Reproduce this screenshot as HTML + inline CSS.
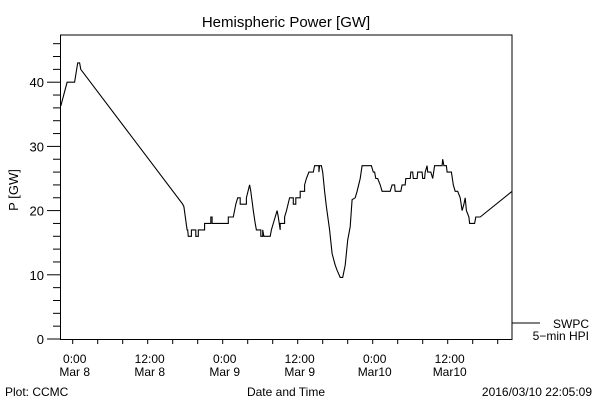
<!DOCTYPE html>
<html><head><meta charset="utf-8"><style>
html,body{margin:0;padding:0;background:#fff;}
svg{display:block;font-family:"Liberation Sans",sans-serif;}
</style></head><body>
<svg id="chart" width="600" height="400" viewBox="0 0 600 400" xmlns="http://www.w3.org/2000/svg">
<rect x="0" y="0" width="600" height="400" fill="#fff"/>
<text x="286" y="27" font-size="15" text-anchor="middle">Hemispheric Power [GW]</text>
<text transform="translate(18,190) rotate(-90)" font-size="13" text-anchor="middle">P [GW]</text>
<text x="286" y="396" font-size="12" text-anchor="middle">Date and Time</text>
<text x="5" y="396" font-size="12">Plot: CCMC</text>
<text x="592" y="396" font-size="12" text-anchor="end">2016/03/10 22:05:09</text>
<g id="axes"></g>
<g id="series"></g>
<line x1="512" y1="323" x2="540" y2="323" stroke="#000"/>
<text x="589" y="328" font-size="12" text-anchor="end">SWPC</text>
<text x="589" y="340" font-size="12" text-anchor="end">5−min HPI</text>
</svg>
<script>
const hours=[-1.9,-0.9,0.3,0.8,1.1,1.3,17.6,17.8,18.3,18.4,18.5,19.0,19.0,19.7,19.7,20.1,20.1,20.5,21.1,21.1,22.1,22.1,22.3,22.3,24.9,24.9,25.7,26.1,26.4,26.8,26.8,27.8,27.8,28.3,28.5,28.9,29.2,29.4,30.1,30.1,30.4,30.4,30.6,31.6,31.8,32.1,32.7,32.9,33.2,33.2,33.9,33.9,34.2,34.7,35.3,35.3,35.7,35.7,36.4,36.4,37.1,37.1,37.4,37.8,38.5,38.7,39.4,39.4,39.5,39.8,40.0,40.3,40.6,41.1,41.5,42.0,42.3,42.8,43.2,43.6,44.0,44.4,44.7,45.2,45.5,46.0,46.3,47.8,48.1,48.3,48.5,48.8,49.2,49.5,50.8,51.1,51.5,51.6,52.5,52.7,53.2,53.3,54.0,54.1,54.4,54.5,55.1,55.2,55.9,56.0,56.3,56.4,56.7,56.8,57.3,57.6,57.9,59.1,59.2,59.4,59.8,59.9,60.6,60.9,61.2,61.6,62.0,62.3,62.6,62.8,63.0,63.4,63.5,64.3,64.5,65.2,70.3];
const power=[36.3,40,40,43,43,42,21,20.6,17,17,16,16,17,17,16,16,17,17,17,18,18,19,19,18,18,19,19,21,22,22,21,21,22,24,23,20,18,17,17,16,16,17,16,16,17,18,20,19,17,18,18,19,20,22,22,21,21,22,22,23,23,24,25,26,26,27,27,26,27,27,26,23,20.6,17,13.3,11.5,10.7,9.6,9.6,11.5,15.4,17.5,21.7,22,23,25,27,27,26,26,25,25,24,23,23,24,24,23,23,24,24,25,25,26,26,25,25,26,26,25,25,26,27,26,26,25,27,27,28,27,27,26,26,24,23,23,22,20,21,22,20,19,18,18,19,19,23];
const yTicks=[0,10,20,30,40];
const xTickHours=[0,12,24,36,48,60];
const xTickLine1=["0:00","12:00","0:00","12:00","0:00","12:00"];
const xTickLine2=["Mar 8","Mar 8","Mar 9","Mar 9","Mar10","Mar10"];

const L=60.5,R=512,T=35,B=339.5;
const xs=h=>72.7+h*6.25;
const ys=v=>339-v*6.42;
const NS="http://www.w3.org/2000/svg";
function mk(tag,attrs,parent){const e=document.createElementNS(NS,tag);for(const k in attrs)e.setAttribute(k,attrs[k]);parent.appendChild(e);return e;}
const ax=document.getElementById('axes');
const frame=mk('rect',{x:L,y:T,width:R-L,height:B-T,fill:'none',stroke:'#000','stroke-width':1},ax);


for(let v=0;v<=46;v+=2){
  const major=v%10===0;
  const t=mk('line',{x1:major?47:53,x2:L,y1:ys(v),y2:ys(v),stroke:'#000'},ax);
  
  
}
yTicks.forEach(v=>{
  const t=mk('text',{x:44,y:ys(v)+5,'font-size':13,'text-anchor':'end'},ax);
  t.textContent=String(v);
  
  
});
for(let h=-0;h<=70;h+=4){
  const x=xs(h);if(x<L||x>R)continue;
  const t=mk('line',{x1:x,x2:x,y1:B,y2:B+4.5,stroke:'#000'},ax);
  
  
}
xTickHours.forEach((h,i)=>{
  const a=mk('text',{x:xs(h)+2,y:363,'font-size':12,'text-anchor':'middle'},ax);
  a.textContent=xTickLine1[i];
  
  
  const b=mk('text',{x:xs(h)+2,y:376,'font-size':12,'text-anchor':'middle'},ax);
  b.textContent=xTickLine2[i];
  
  
});
const pts=hours.map((h,i)=>xs(h).toFixed(1)+','+ys(power[i]).toFixed(1)).join(' ');
const pl=mk('polyline',{points:pts,fill:'none',stroke:'#000','stroke-width':1.1},document.getElementById('series'));


</script>
</body></html>
